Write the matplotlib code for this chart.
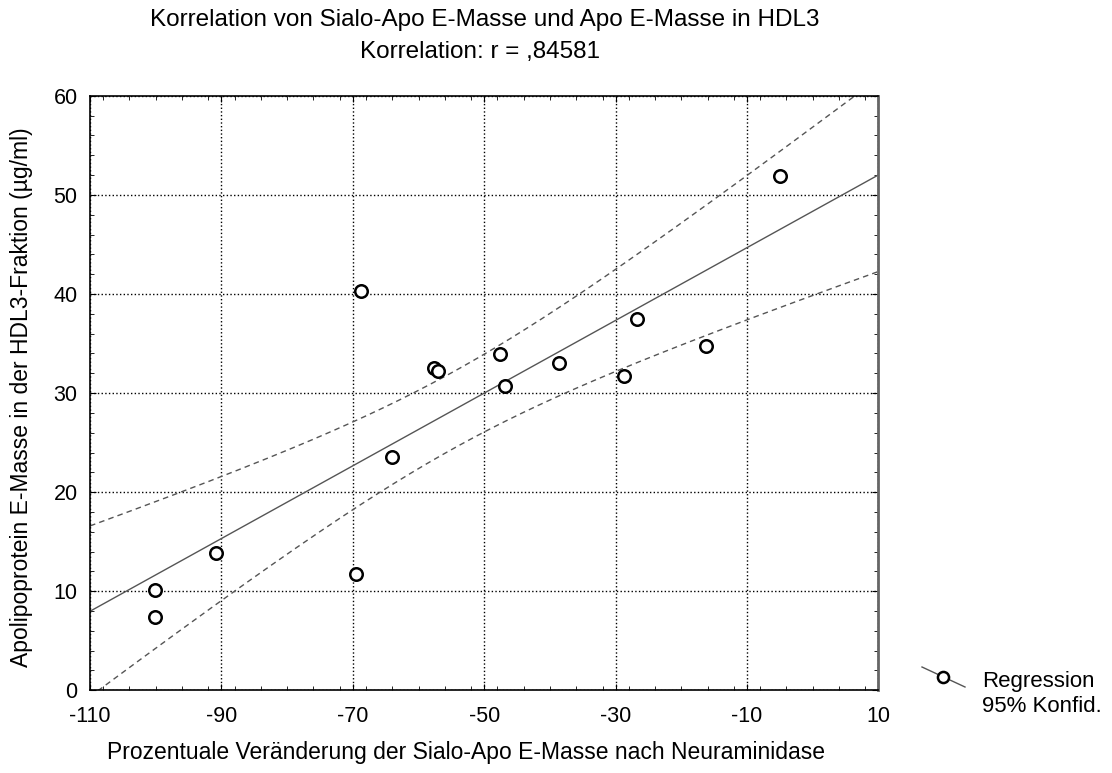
import numpy as np
import matplotlib.pyplot as plt
from matplotlib.lines import Line2D
from matplotlib.ticker import MultipleLocator

plt.rcParams['font.family'] = ['Liberation Sans', 'DejaVu Sans']
plt.rcParams['axes.unicode_minus'] = False

# Daten
veraenderung = [-100.1, -100.1, -90.9, -69.5, -68.7, -64.0, -57.6, -57.0,
                -47.6, -46.9, -38.7, -28.8, -26.7, -16.3, -5.0]
apo_e = [7.4, 10.1, 13.9, 11.7, 40.3, 23.5, 32.5, 32.2,
         33.9, 30.7, 33.0, 31.7, 37.5, 34.8, 51.9]
x_ticks = [-110, -90, -70, -50, -30, -10, 10]
y_ticks = [0, 10, 20, 30, 40, 50, 60]

titel = 'Korrelation von Sialo-Apo E-Masse und Apo E-Masse in HDL3'
untertitel = 'Korrelation: r = ,84581'

x = np.array(veraenderung)
y = np.array(apo_e)
n = len(x)

# Regression + 95% Konfidenzband
b, a = np.polyfit(x, y, 1)
res = y - (a + b * x)
s = np.sqrt(np.sum(res ** 2) / (n - 2))
t = 2.16  # t(0.975, n-2)
xx = np.linspace(-110, 10, 200)
yy = a + b * xx
se = s * np.sqrt(1.0 / n + (xx - x.mean()) ** 2 / np.sum((x - x.mean()) ** 2))

fig = plt.figure(figsize=(11.12, 7.73), dpi=100)
ax = fig.add_axes([0.081, 0.107, 0.709, 0.769])

ax.plot(xx, yy, color='#555555', lw=1)
ax.plot(xx, yy + t * se, color='#555555', lw=1, ls=(0, (4, 3)))
ax.plot(xx, yy - t * se, color='#555555', lw=1, ls=(0, (4, 3)))
ax.plot(x, y, 'o', mfc='white', mec='black', mew=1.8, ms=9, zorder=5)

ax.set_xlim(-110, 10)
ax.set_ylim(0, 60)
ax.set_xticks(x_ticks)
ax.set_yticks(y_ticks)
ax.xaxis.set_minor_locator(MultipleLocator(4))
ax.yaxis.set_minor_locator(MultipleLocator(2))
ax.tick_params(which='both', direction='in', top=True, right=True, labelsize=15.5)
ax.tick_params(which='major', length=4)
ax.tick_params(which='minor', length=3)
ax.tick_params(axis='x', pad=11)
ax.tick_params(axis='y', pad=9)
ax.grid(True, which='major', color='black', ls=':', lw=1)
for sp in ax.spines.values():
    sp.set_linewidth(1.2)
ax.spines['right'].set_linewidth(2)
ax.spines['right'].set_color('#666666')

fig.text(22 / 1112, 1 - 397 / 773, 'Apolipoprotein E-Masse in der HDL3-Fraktion (µg/ml)',
         rotation=90, ha='center', va='center', fontsize=16.5)

fig.text(485 / 1112, 1 - 20 / 773, titel, ha='center', va='center', fontsize=17.5)
fig.text(480 / 1112, 1 - 52 / 773, untertitel, ha='center', va='center', fontsize=17.5)
fig.text(466 / 1112, 1 - 752 / 773, 'Prozentuale Veränderung der Sialo-Apo E-Masse nach Neuraminidase',
         ha='center', va='center', fontsize=16.5)

# Legende
fig.add_artist(Line2D([922 / 1112, 965 / 1112], [1 - 667 / 773, 1 - 687 / 773],
                      color='#555555', lw=1, transform=fig.transFigure))
fig.add_artist(Line2D([943 / 1112], [1 - 677 / 773], marker='o', mfc='white', mec='black',
                      mew=1.8, ms=8, transform=fig.transFigure))
fig.text(982 / 1112, 1 - 681 / 773, 'Regression', ha='left', va='center', fontsize=16)
fig.text(982 / 1112, 1 - 707 / 773, '95% Konfid.', ha='left', va='center', fontsize=16)

fig.savefig('out.png', dpi=100)
